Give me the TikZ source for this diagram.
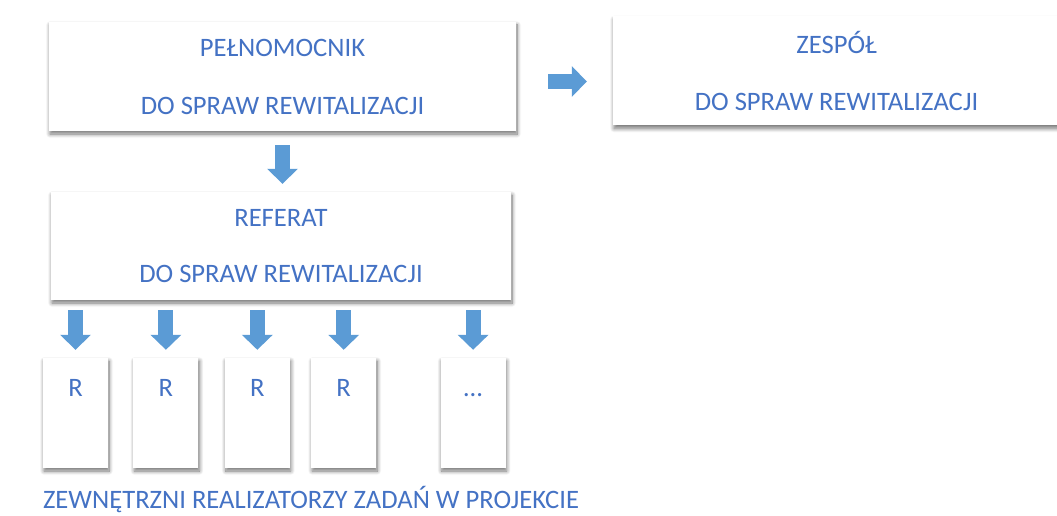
\documentclass[tikz,border=0pt]{standalone}
\usepackage{fontspec}
\setmainfont{Carlito}
\usepackage{tikz}
\usetikzlibrary{arrows.meta,positioning,shadows.blur}
\definecolor{txtblue}{HTML}{4472C4}
\definecolor{arrblue}{HTML}{5B9BD5}
\tikzset{
  unitbox/.style={rectangle, fill=white, text=txtblue, font=\fontsize{26.6}{32}\selectfont,
    align=center, inner sep=0pt,
    blur shadow={shadow xshift=1pt, shadow yshift=-3pt, shadow blur radius=4pt,
      shadow blur steps=10, shadow opacity=55}},
  bigbox/.style={unitbox, minimum height=109pt},
  rbox/.style={unitbox, minimum width=65pt, text height=38pt, text depth=72pt},
  blockarrow/.style={-{Triangle[width=30pt,length=15pt]}, arrblue, line width=15pt}
}
\begin{document}
\begin{tikzpicture}[x=1pt,y=-1pt]
  \useasboundingbox (0,0) rectangle (1057,516);
  % glowne komorki
  \node[bigbox,minimum width=467pt] (pelnomocnik) at (282.5,76.5) {PEŁNOMOCNIK\\[26pt]DO SPRAW REWITALIZACJI};
  \node[bigbox,minimum width=447pt] (zespol) at (836.5,71) {ZESPÓŁ\\[25pt]DO SPRAW REWITALIZACJI};
  \node[bigbox,minimum width=460pt,minimum height=108pt] (referat) at (281,246) {REFERAT\\[24pt]DO SPRAW REWITALIZACJI};
  % realizatorzy
  \node[rbox] (r1) at (75.5,413) {R};
  \node[rbox,right=25pt of r1] (r2) {R};
  \node[rbox,right=26pt of r2] (r3) {R};
  \node[rbox,right=21pt of r3] (r4) {R};
  \node[rbox,right=64pt of r4] (r5) {…};
  \node[text=txtblue,font=\fontsize{26.6}{32}\selectfont] (opis) at (311,500) {ZEWNĘTRZNI REALIZATORZY ZADAŃ W PROJEKCIE};
  % strzalki
  \draw[blockarrow,shorten <=14pt,shorten >=8pt] (pelnomocnik.south) -- (pelnomocnik.south |- referat.north);
  \draw[blockarrow,shorten <=32pt,shorten >=26pt] ([yshift=-5pt]pelnomocnik.east) -- (zespol.west |- 0,81.5);
  \foreach \r in {r1,r2,r3,r4,r5}
    \draw[blockarrow,shorten <=10pt,shorten >=8pt] (referat.south -| \r.north) -- (\r.north);
\end{tikzpicture}
\end{document}
